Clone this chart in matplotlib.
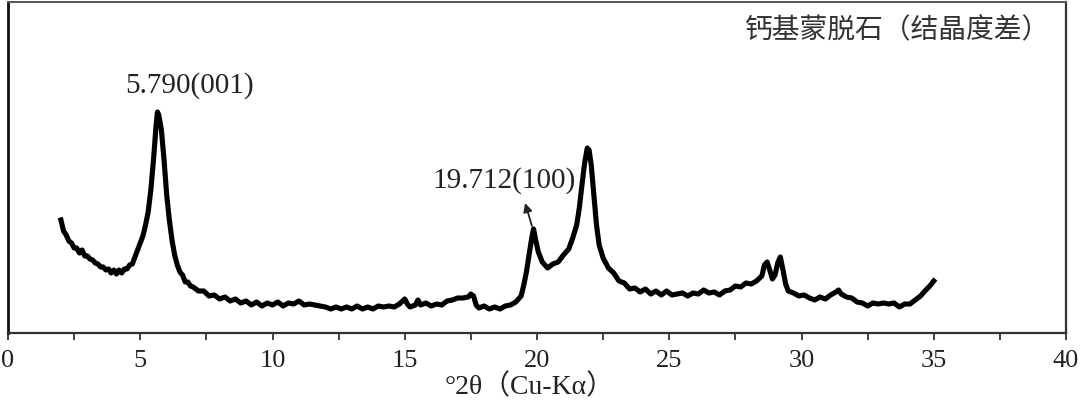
import matplotlib
matplotlib.use("Agg")
import matplotlib.pyplot as plt

# XRD pattern (2theta in degrees, intensity in a.u.)
two_theta = [
    2.0, 2.1, 2.2, 2.3, 2.4, 2.5, 2.6, 2.7, 2.8, 2.9,
    3.0, 3.1, 3.2, 3.3, 3.4, 3.5, 3.6, 3.7, 3.8, 3.9,
    4.0, 4.1, 4.2, 4.3, 4.4, 4.5, 4.6, 4.7, 4.8, 4.9,
    5.0, 5.1, 5.2, 5.3, 5.4, 5.5, 5.6, 5.65, 5.7, 5.8,
    5.9, 6.0, 6.1, 6.2, 6.3, 6.4, 6.5, 6.6, 6.7, 6.8,
    6.9, 7.0, 7.2, 7.4, 7.6, 7.8, 8.0, 8.2, 8.4, 8.6,
    8.8, 9.0, 9.2, 9.4, 9.6, 9.8, 10.0, 10.2, 10.4, 10.6,
    10.8, 11.0, 11.2, 11.4, 11.6, 11.8, 12.0, 12.2, 12.4, 12.6,
    12.8, 13.0, 13.2, 13.4, 13.6, 13.8, 14.0, 14.2, 14.4, 14.6,
    14.8, 15.0, 15.1, 15.2, 15.4, 15.5, 15.6, 15.8, 16.0, 16.2,
    16.4, 16.6, 16.8, 17.0, 17.2, 17.4, 17.5, 17.6, 17.7, 17.8,
    18.0, 18.2, 18.4, 18.6, 18.8, 19.0, 19.2, 19.4, 19.5, 19.6,
    19.7, 19.8, 19.87, 19.95, 20.05, 20.2, 20.4, 20.6, 20.8, 21.0,
    21.2, 21.35, 21.5, 21.6, 21.7, 21.8, 21.9, 21.97, 22.05, 22.15,
    22.25, 22.35, 22.5, 22.7, 22.9, 23.1, 23.3, 23.5, 23.7, 23.9,
    24.1, 24.3, 24.5, 24.7, 24.9, 25.1, 25.3, 25.5, 25.7, 25.9,
    26.1, 26.3, 26.5, 26.7, 26.9, 27.1, 27.3, 27.5, 27.7, 27.9,
    28.1, 28.3, 28.5, 28.6, 28.7, 28.8, 28.9, 29.0, 29.1, 29.2,
    29.3, 29.4, 29.5, 29.7, 29.9, 30.1, 30.3, 30.5, 30.7, 30.9,
    31.1, 31.3, 31.4, 31.5, 31.7, 31.9, 32.1, 32.3, 32.5, 32.7,
    32.9, 33.1, 33.3, 33.5, 33.7, 33.9, 34.1, 34.3, 34.5, 34.7,
    34.85, 35.0,
]
intensity = [
    113, 102, 98, 92, 90, 85, 85, 80, 83, 77,
    77, 74, 73, 70, 69, 66, 66, 63, 64, 60,
    63, 59, 63, 60, 64, 64, 68, 69, 76, 83,
    90, 97, 108, 121, 143, 173, 208, 221, 218, 203,
    173, 138, 113, 93, 78, 68, 61, 58, 51, 51,
    47, 46, 42, 42, 37, 38, 34, 36, 32, 34,
    30, 32, 28, 31, 27, 30, 28, 31, 27, 30,
    29, 32, 28, 29, 28, 27, 26, 24, 26, 24,
    26, 24, 27, 24, 26, 24, 27, 26, 27, 26,
    29, 34, 29, 26, 28, 33, 28, 30, 27, 29,
    28, 32, 33, 35, 35, 36, 39, 37, 28, 25,
    27, 24, 26, 24, 27, 28, 31, 37, 48, 61,
    78, 95, 104, 93, 81, 71, 65, 69, 71, 78,
    84, 95, 108, 125, 148, 170, 185, 183, 168, 138,
    108, 88, 75, 65, 60, 52, 50, 44, 45, 41,
    44, 39, 42, 38, 42, 38, 39, 40, 37, 40,
    39, 43, 40, 41, 38, 42, 43, 47, 46, 50,
    49, 52, 57, 68, 71, 63, 54, 58, 70, 76,
    63, 49, 42, 40, 37, 38, 35, 33, 36, 34,
    38, 41, 43, 39, 36, 35, 31, 30, 27, 30,
    29, 30, 29, 30, 26, 29, 29, 33, 37, 43,
    47, 52,
]

x_ticks = [0, 5, 10, 15, 20, 25, 30, 35, 40]
title_text = "钙基蒙脱石（结晶度差）"
peak_labels = ["5.790(001)", "19.712(100)"]

serif = ["Liberation Serif", "DejaVu Serif"]

fig = plt.figure(figsize=(10.8, 4.01), dpi=100)
ax = fig.add_axes([8 / 1080, 1 - 333 / 401, 1058 / 1080, 331 / 401])

ax.plot(two_theta, intensity, color="black", lw=3.7, solid_joinstyle="round")

ax.set_xlim(0, 40)
ax.set_ylim(0, 331)
ax.set_yticks([])
ax.set_xticks(x_ticks)
ax.set_xticks([2.5, 7.5, 12.5, 17.5, 22.5, 27.5, 32.5, 37.5], minor=True)
ax.tick_params(axis="x", which="both", direction="out", length=5, width=1.2,
               color="#222222", pad=7)
for lab in ax.get_xticklabels():
    lab.set_fontfamily(serif)
    lab.set_fontsize(19)
    lab.set_color("#222222")

for side, c, w in [("left", "#111111", 2.0), ("bottom", "#333333", 1.6),
                   ("top", "#555555", 1.4), ("right", "#333333", 1.6)]:
    ax.spines[side].set_color(c)
    ax.spines[side].set_linewidth(w)

ax.set_xlabel("°2θ（Cu-Kα）", fontsize=20, color="#222222",
              family=["Liberation Serif", "Noto Sans CJK SC"], labelpad=1.5)
ax.xaxis.label.set_x(0.493)

ax.text(39.4, 303, title_text, ha="right", va="center", fontsize=20,
        color="#333333", family=["Noto Sans CJK SC", "DejaVu Sans"])

ax.text(6.88, 247, peak_labels[0], ha="center", va="center", fontsize=21,
        color="#222222", family=serif)
ax.text(18.75, 152, peak_labels[1], ha="center", va="center", fontsize=21,
        color="#222222", family=serif)
ax.annotate("", xy=(19.55, 130), xytext=(19.81, 107),
            arrowprops=dict(arrowstyle="-|>", color="#222222", lw=1.3,
                            mutation_scale=13, shrinkA=0, shrinkB=0))

fig.savefig("out.png", dpi=100)
